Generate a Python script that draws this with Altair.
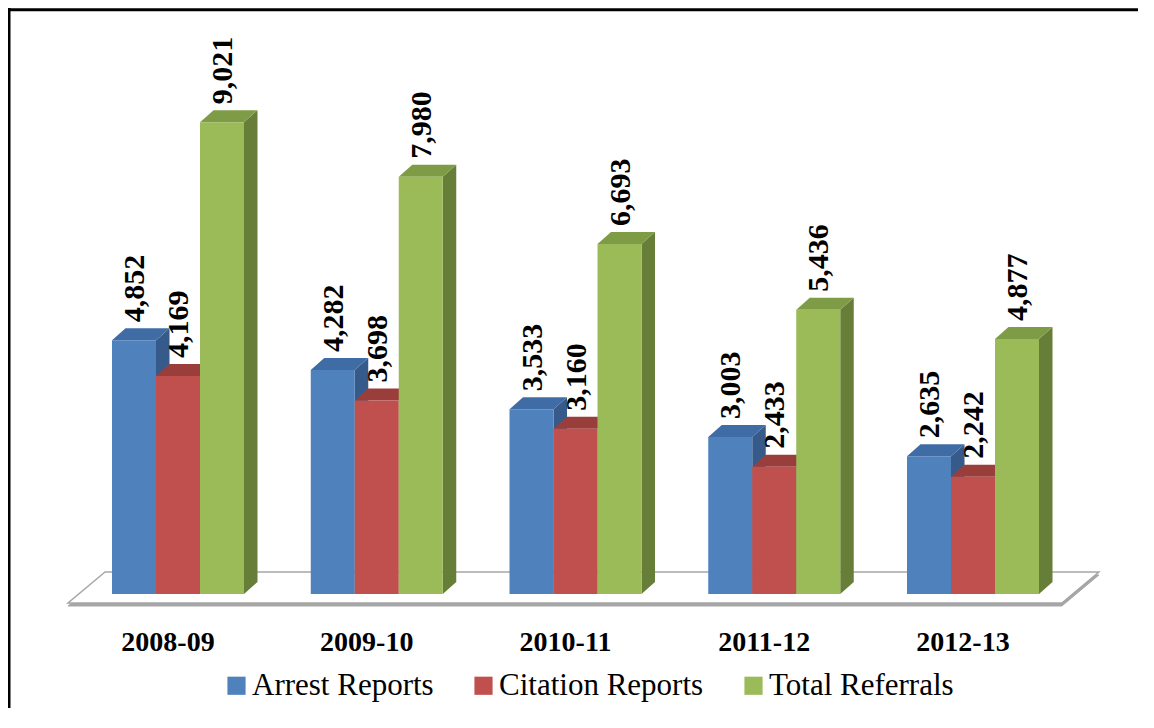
import altair as alt
import pandas as pd

# ---- data ----
categories = ["2008-09", "2009-10", "2010-11", "2011-12", "2012-13"]
series = ["Arrest Reports", "Citation Reports", "Total Referrals"]
arrest = [4852, 4282, 3533, 3003, 2635]
citation = [4169, 3698, 3160, 2433, 2242]
referrals = [9021, 7980, 6693, 5436, 4877]

front_colors = ["#4F81BD", "#C0504D", "#9BBB59"]
top_colors = ["#3F6CA5", "#9A3E3C", "#7E9C45"]
side_colors = ["#365B8A", "#8A3735", "#667E38"]

# ---- layout (pixels in chart coordinates) ----
W, H = 1130, 700
X0, GROUP_PX = 104.0, 198.75          # chart x of first bar, spacing of groups
BASE_PX, PX_PER_UNIT = 586.0, 0.0523   # chart y of value 0, pixels per unit
BAR_W = 44 / GROUP_PX
DX = 13.5 / GROUP_PX
DY = 12 / PX_PER_UNIT

x_dom = [-X0 / GROUP_PX, (W - X0) / GROUP_PX]
y_dom = [(BASE_PX - H) / PX_PER_UNIT, BASE_PX / PX_PER_UNIT]
xs = alt.Scale(domain=x_dom, range=[0, W], nice=False, zero=False)
ys = alt.Scale(domain=y_dom, range=[H, 0], nice=False, zero=False)

values = [arrest, citation, referrals]
front, side, top, labels = [], [], [], []
for i, cat in enumerate(categories):
    for s, name in enumerate(series):
        v = values[s][i]
        xl = i + s * BAR_W
        xr = xl + BAR_W
        bid = f"{i}-{s}"
        front.append(dict(series=name, xl=xl, xr=xr, v=v))
        side.append(dict(bid=bid, x=xr, y=v, y2=0, c=side_colors[s]))
        side.append(dict(bid=bid, x=xr + DX, y=v + DY, y2=DY, c=side_colors[s]))
        top.append(dict(bid=bid, y=v, x=xl, x2=xr, c=top_colors[s]))
        top.append(dict(bid=bid, y=v + DY, x=xl + DX, x2=xr + DX, c=top_colors[s]))
        labels.append(dict(x=(xl + xr) / 2, y=v + DY, t=f"{v:,}"))

cat_df = pd.DataFrame(dict(cat=categories, x=[i + 1.5 * BAR_W - 10 / GROUP_PX for i in range(len(categories))]))

# floor slab (parallelogram)
f_front, f_depth_x, f_depth_y = -172, 37 / GROUP_PX, 31 / PX_PER_UNIT
f_left, f_right = -BAR_W, len(categories) - 1 + 3.52 * BAR_W
floor_df = pd.DataFrame([
    dict(y=f_front, x=f_left, x2=f_right),
    dict(y=f_front + f_depth_y, x=f_left + f_depth_x, x2=f_right + f_depth_x),
])
floor_shadow = pd.DataFrame([
    dict(y=f_front - 3 / PX_PER_UNIT, x=f_left, x2=f_right),
    dict(y=f_front + f_depth_y - 3 / PX_PER_UNIT, x=f_left + f_depth_x, x2=f_right + f_depth_x),
])

X = lambda f: alt.X(f, type="quantitative", scale=xs, axis=None)
Y = lambda f: alt.Y(f, type="quantitative", scale=ys, axis=None)

shadow_layer = alt.Chart(floor_shadow).mark_area(
    orient="horizontal", color="#A6A6A6", stroke="#A6A6A6", strokeWidth=1
).encode(y=Y("y"), x=X("x"), x2="x2")

floor_layer = alt.Chart(floor_df).mark_area(
    orient="horizontal", fill="white", stroke="#A6A6A6", strokeWidth=1.5
).encode(y=Y("y"), x=X("x"), x2="x2")

side_layer = alt.Chart(pd.DataFrame(side)).mark_area(orient="vertical").encode(
    x=X("x"), y=Y("y"), y2="y2", detail="bid:N",
    color=alt.Color("c:N", scale=None),
)

top_layer = alt.Chart(pd.DataFrame(top)).mark_area(orient="horizontal").encode(
    y=Y("y"), x=X("x"), x2="x2", detail="bid:N",
    color=alt.Color("c:N", scale=None),
)

front_layer = alt.Chart(pd.DataFrame(front)).mark_rect().encode(
    x=X("xl"), x2="xr", y=Y("v"), y2=alt.datum(0),
    color=alt.Color(
        "series:N",
        scale=alt.Scale(domain=series, range=front_colors),
        legend=alt.Legend(
            orient="none", legendX=213, legendY=662, direction="horizontal",
            columns=3, title=None, symbolType="square", symbolSize=330,
            symbolStrokeWidth=0, symbolOpacity=1, labelFont="Liberation Serif",
            labelFontSize=31, labelColor="black", labelOffset=0,
            columnPadding=34, padding=0, labelLimit=400,
        ),
    ),
)

label_layer = alt.Chart(pd.DataFrame(labels)).mark_text(
    angle=270, align="left", baseline="middle", dx=6, dy=1,
    font="Liberation Serif", fontWeight="bold", fontSize=30, color="black",
).encode(x=X("x"), y=Y("y"), text="t:N")

cat_layer = alt.Chart(cat_df).mark_text(
    align="center", baseline="alphabetic", font="Liberation Serif",
    fontWeight="bold", fontSize=28, color="black",
).encode(x=X("x"), y=alt.value(643), text="cat:N")

border_top = alt.Chart(pd.DataFrame({"a": [0]})).mark_rule(
    color="black", strokeWidth=3, strokeCap="butt"
).encode(x=alt.value(0), x2=alt.value(W), y=alt.value(1.7), y2=alt.value(1.7))
border_left = alt.Chart(pd.DataFrame({"a": [0]})).mark_rule(
    color="black", strokeWidth=3, strokeCap="butt"
).encode(x=alt.value(1), x2=alt.value(1), y=alt.value(0), y2=alt.value(H))

chart = alt.layer(
    shadow_layer, floor_layer, side_layer, top_layer, front_layer,
    label_layer, cat_layer, border_top, border_left,
).resolve_scale(color="independent").properties(
    width=W, height=H, padding=0, autosize="none"
).configure_view(stroke=None)

chart.save("out.html", embed_options={"renderer": "svg", "actions": False})
